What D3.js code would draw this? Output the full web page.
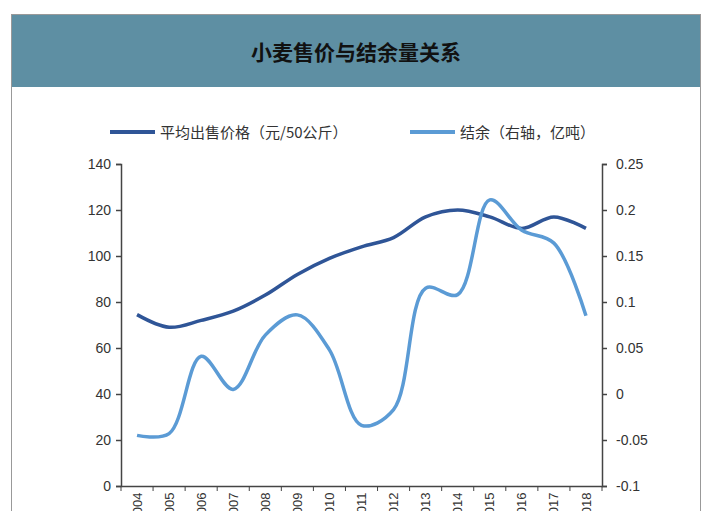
<!DOCTYPE html><html><head><meta charset="utf-8"><script src="https://cdn.jsdelivr.net/npm/d3@7"></script>
<style>body{margin:0;background:#fff}</style></head><body><svg id="c" width="720" height="511"></svg>
<script>
const years=["2004","2005","2006","2007","2008","2009","2010","2011","2012","2013","2014","2015","2016","2017","2018"];
const price=[74.5,69,72,76,83,92,99,104,108,117,120,117,112,117,112];
const surplus=[-0.045,-0.043,0.041,0.005,0.064,0.086,0.048,-0.034,-0.017,0.115,0.108,0.211,0.178,0.164,0.085];
const leftTicks=[0,20,40,60,80,100,120,140];
const rightTicks=[-0.1,-0.05,0,0.05,0.1,0.15,0.2,0.25];
const svg=d3.select("#c");
const F="'Liberation Sans',Arial,sans-serif";
svg.append("rect").attr("x",11.5).attr("y",14.5).attr("width",689).attr("height",520).attr("fill","#fff").attr("stroke","#999");
svg.append("rect").attr("x",12).attr("y",15).attr("width",688).attr("height",72).attr("fill","#5e8fa3");
svg.append("text").attr("x",356).attr("y",60).attr("text-anchor","middle").attr("font-family","'Noto Sans CJK SC'").attr("font-weight","bold").attr("font-size",21).attr("fill","#111").text("小麦售价与结余量关系");
const x=d3.scaleBand().domain(years).range([121,602]);
const yL=d3.scaleLinear().domain([0,140]).range([486,164]);
const yR=d3.scaleLinear().domain([-0.1,0.25]).range([486,164]);
const g=svg.append("g");
const ax=g.append("g").attr("transform","translate(0,486)").call(d3.axisBottom(x).tickSize(0).tickFormat(d=>d));
ax.selectAll("text").attr("transform","rotate(-90)").attr("text-anchor","end").attr("dx","-0.5em").attr("dy","0.35em").attr("x",0).attr("y",0).attr("font-size",13).attr("font-family",F).attr("fill","#333");
ax.select(".domain").attr("stroke","#444").attr("stroke-width",1.5);
const bt=g.append("g");
years.concat(["end"]).forEach((d,i)=>{const xx=121+i*x.step();bt.append("line").attr("x1",xx).attr("x2",xx).attr("y1",486).attr("y2",491).attr("stroke","#444");});
const al=g.append("g").attr("transform","translate(121,0)").call(d3.axisLeft(yL).tickValues(leftTicks).tickSize(5));
const ar=g.append("g").attr("transform","translate(602,0)").call(d3.axisRight(yR).tickValues(rightTicks).tickSize(5).tickFormat(d=>String(+d.toFixed(2))));
[al,ar].forEach(a=>{a.selectAll("text").attr("font-size",14).attr("font-family",F).attr("fill","#333");a.selectAll("line,path").attr("stroke","#444").attr("stroke-width",1.5);});
ar.selectAll("text").attr("x",14);al.selectAll("text").attr("x",-10);
const cx=(d,i)=>x(years[i])+x.bandwidth()/2;
svg.append("path").datum(price).attr("fill","none").attr("stroke","#2f5597").attr("stroke-width",3.5)
 .attr("d",d3.line().x(cx).y(d=>yL(d)).curve(d3.curveCatmullRom));
svg.append("path").datum(surplus).attr("fill","none").attr("stroke","#5b9bd5").attr("stroke-width",3.5)
 .attr("d",d3.line().x(cx).y(d=>yR(d)).curve(d3.curveCatmullRom));
const lg=svg.append("g").attr("font-family","'Noto Sans CJK SC'").attr("font-size",15).attr("fill","#333");
lg.append("line").attr("x1",110).attr("x2",155).attr("y1",132).attr("y2",132).attr("stroke","#2f5597").attr("stroke-width",4);
lg.append("text").attr("x",160).attr("y",138).text("平均出售价格（元/50公斤）");
lg.append("line").attr("x1",410).attr("x2",455).attr("y1",132).attr("y2",132).attr("stroke","#5b9bd5").attr("stroke-width",4);
lg.append("text").attr("x",460).attr("y",138).text("结余（右轴，亿吨）");
</script></body></html>
